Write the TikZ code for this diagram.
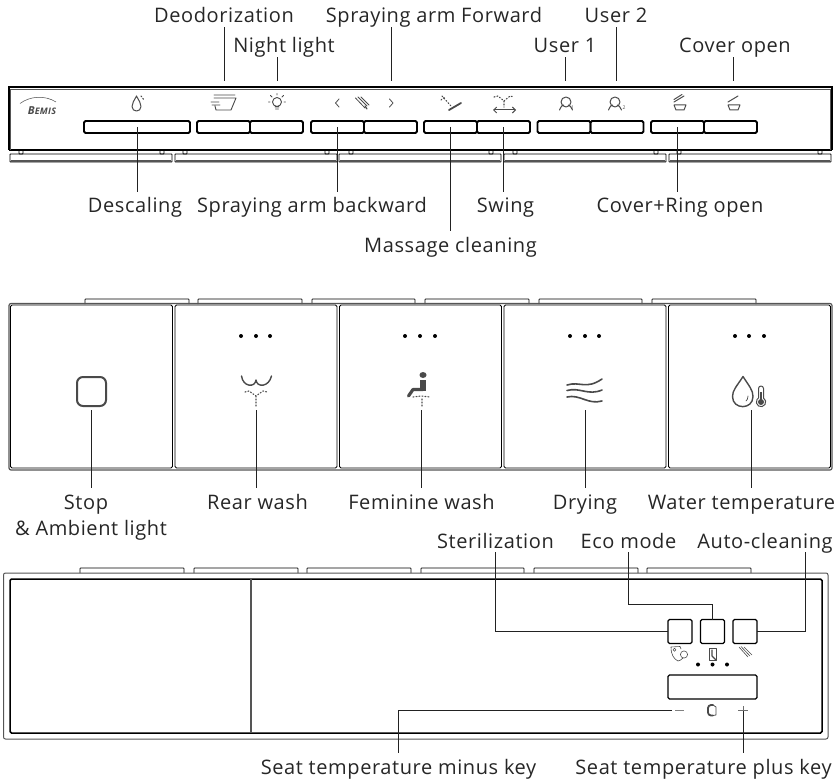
\documentclass[tikz,border=0pt]{standalone}
\usepackage{fontspec}
\setmainfont{Open Sans}[LetterSpace=3]
\usetikzlibrary{positioning, arrows.meta}
\definecolor{icongray}{HTML}{4A4A4A}
\definecolor{edgegray}{HTML}{555555}
\definecolor{leadgray}{HTML}{222222}

\begin{document}
\begin{tikzpicture}[
    x=1pt, y=-1pt,
    keybox/.style={rectangle, draw, rounded corners=1.5pt, inner sep=0pt, outer sep=0pt, minimum height=12pt, minimum width=53pt, line width=1.9pt},
    smallkey/.style={rectangle, draw, rounded corners=1.5pt, inner sep=0pt, outer sep=0pt, minimum height=24pt, minimum width=24pt, line width=1.1pt},
    padkey/.style={rectangle, draw, rounded corners=1.5pt, inner sep=0pt, outer sep=0pt, minimum height=163pt, minimum width=162pt, line width=0.9pt},
    lbl/.style={font=\fontsize{20}{22}\selectfont, anchor=base, inner sep=0pt, text height=21pt, text depth=4pt, text=black!85},
    lead/.style={draw=leadgray, line width=0.9pt},
    icon/.style={draw=icongray, line width=1pt, line cap=round, line join=round},
    thickicon/.style={draw=icongray, line width=1.8pt, line cap=round, line join=round},
    spray/.style={draw=icongray, line width=1.1pt, dash pattern=on 1pt off 2pt, line cap=round},
    tab/.style={draw, line width=0.8pt, rounded corners=0.6pt},
    ledot/.style={fill=black, draw=none},
  ]
    \useasboundingbox (0,0) rectangle (836,781);

    % top panel
    \draw[line width=1.3pt] (9,150) -- (9,87) -- (832,87) -- (832,150);
    \draw[line width=1.9pt] (9,150) -- (832,150);
    \draw[edgegray, line width=0.7pt] (10.5,150) -- (10.5,89) -- (830,89) -- (830,150);
    \draw[tab] (19,150) rectangle (23,154) (160,150) rectangle (164,154) (183,150) rectangle (187,154) (325,150) rectangle (329,154) (349,150) rectangle (353,154) (489,150) rectangle (493,154) (513,150) rectangle (517,154) (654,150) rectangle (658,154) (677,150) rectangle (681,154) (818,150) rectangle (822,154);
    \draw[tab, line width=0.9pt] (10,154) rectangle (172,162) (175,154) rectangle (337,162) (339,154) rectangle (501,162) (504,154) rectangle (666,162) (669,154) rectangle (831,162);
    \draw[edgegray, line width=1.2pt] (11,161) -- (171,161) (176,161) -- (336,161) (340,161) -- (500,161) (505,161) -- (665,161) (670,161) -- (830,161);

    \node[keybox, minimum width=106pt] (descaling) at (137,127) {};
    \node[keybox] (deo) at (223.5,127) {};
    \node[keybox, right=0pt of deo] (night) {};
    \node[keybox] (armback) at (337.5,127) {};
    \node[keybox, right=0pt of armback] (armfwd) {};
    \node[keybox] (massage) at (450.5,127) {};
    \node[keybox, right=0pt of massage] (swing) {};
    \node[keybox] (userone) at (564,127) {};
    \node[keybox, right=0pt of userone] (usertwo) {};
    \node[keybox] (coverring) at (677.5,127) {};
    \node[keybox, right=0pt of coverring] (cover) {};

    \coordinate (deoTop) at (224,81);
    \coordinate (nightTop) at (277,81);
    \coordinate (armTop) at (391,81);
    \coordinate (oneTop) at (565,81);
    \coordinate (twoTop) at (616,81);
    \coordinate (coverTop) at (733,81);

    \node[lbl] (deoLbl) at (224,22.5) {Deodorization};
    \node[lbl] (nightLbl) at (284,52.5) {Night light};
    \node[lbl] (armLbl) at (434,22.5) {Spraying arm Forward};
    \node[lbl] (oneLbl) at (565,52.5) {User 1};
    \node[lbl] (twoLbl) at (616,22.5) {User 2};
    \node[lbl] (coverLbl) at (735,52.5) {Cover open};
    \node[lbl] (descLbl) at (135,213) {Descaling};
    \node[lbl] (backLbl) at (312,213) {Spraying arm backward};
    \node[lbl] (massLbl) at (450.5,252) {Massage cleaning};
    \node[lbl] (swingLbl) at (505.5,213) {Swing};
    \node[lbl] (ringLbl) at (680,213) {Cover+Ring open};

    \draw[lead] (deoTop) -- (deoTop |- deoLbl.south);
    \draw[lead] (nightTop) -- (nightTop |- nightLbl.south);
    \draw[lead] (armTop) -- (armTop |- armLbl.south);
    \draw[lead] (oneTop) -- (oneTop |- oneLbl.south);
    \draw[lead] (twoTop) -- (twoTop |- twoLbl.south);
    \draw[lead] (coverTop) -- (coverTop |- coverLbl.south);
    \draw[lead] (descaling.center) -- (descaling.center |- descLbl.north);
    \draw[lead] (armback.center) -- (armback.center |- backLbl.north);
    \draw[lead] (massage.center) -- (massage.center |- massLbl.north);
    \draw[lead] (swing.center) -- (swing.center |- swingLbl.north);
    \draw[lead] (coverring.center) -- (coverring.center |- ringLbl.north);

    % top panel icons
    \draw[icongray, line width=0.5pt] (20,103.5) .. controls (30,96) and (45,95) .. (56,102);
    \node[inner sep=0pt, text=icongray] (bemis) at (42,111) {\itshape\bfseries{\fontsize{11}{11}\selectfont B}{\fontsize{9}{11}\selectfont EMIS}};
    \draw[icon] (136.5,96) .. controls (134,101) and (132,103) .. (132,106.5) .. controls (132,112.5) and (141,112.5) .. (141,106.5) .. controls (141,103) and (139,101) .. (136.5,96) -- cycle;
    \draw[spray] (141,96) -- (144,100);
    \draw[icon, line width=0.9pt] (214,95) -- (235,95) (214,98) -- (236,98) -- (231,110) -- (216,110) -- (215,106) (211,102) -- (219,102) (212,105) -- (220,105);
    \draw[icon, line width=0.9pt] (277,102) circle (4.5) (275,107) -- (279,107) (275.5,109) -- (278.5,109) (270,102) -- (268.5,102) (284,102) -- (285.5,102) (272,97) -- (270.5,95.5) (282,97) -- (283.5,95.5) (277,95) -- (277,93.5);
    \draw[icon, line width=0.8pt] (339,99) -- (335.5,103) -- (339,107) (389.5,99) -- (393,103) -- (389.5,107);
    \draw[icon, line width=0.8pt] (355.5,98) -- (365,108) (358,97) -- (367,106) (361,97) -- (369,105);
    \draw[icon, line width=1.2pt] (365,106) -- (367,109);
    \draw[spray] (442,96) -- (451,106) (441,100) -- (445,97);
    \draw[thickicon] (449,110) -- (461,103);
    \draw[spray] (494,97) -- (498,96) -- (504,101) -- (510,96) -- (514,97) (504,101) -- (504,107);
    \draw[icon, {Straight Barb[length=3pt]}-{Straight Barb[length=3pt]}] (493,110) -- (516,110);
    \draw[icon] (566,102) circle (5) (559.5,110) .. controls (561,106) and (563,105) .. (563.5,105) (568.5,105) .. controls (570,106) and (571.5,107) .. (572.5,110);
    \node[inner sep=0pt, text=icongray, font=\fontsize{5}{5}\selectfont] (subone) at (572.5,108) {1};
    \draw[icon] (615,102) circle (5) (608.5,110) .. controls (610,106) and (612,105) .. (612.5,105) (617.5,105) .. controls (619,106) and (620.5,107) .. (621.5,110);
    \node[inner sep=0pt, text=icongray, font=\fontsize{5}{5}\selectfont] (subtwo) at (624,108) {2};
    \draw[icon] (674,105) -- (686,105) -- (684,110) -- (676,110) -- cycle (674,102) -- (684,96) (674,99.5) -- (682,94.5);
    \draw[icon] (728,105) -- (740,105) -- (738,110) -- (730,110) -- cycle (728,102) -- (738,96);

    % middle panel
    \draw[tab, fill=white] (85,304) -- (85,299) -- (189,299) -- (189,304) (198,304) -- (198,299) -- (302,299) -- (302,304) (312,304) -- (312,299) -- (415,299) -- (415,304) (425,304) -- (425,299) -- (529,299) -- (529,304) (539,304) -- (539,299) -- (642,299) -- (642,304) (652,304) -- (652,299) -- (756,299) -- (756,304);
    \draw[edgegray, line width=1.2pt, rounded corners=2pt] (9,303.5) rectangle (832,470);
    \node[padkey] (stop) at (91.5,386.5) {};
    \node[padkey, right=2.5pt of stop] (rear) {};
    \node[padkey, right=2.5pt of rear] (feminine) {};
    \node[padkey, right=2.5pt of feminine] (drying) {};
    \node[padkey, right=2.5pt of drying] (water) {};

    \fill[ledot] (241,336) circle (2) (256,336) circle (2) (270,336) circle (2);
    \fill[ledot] (405,336) circle (2) (420,336) circle (2) (435,336) circle (2);
    \fill[ledot] (570,336) circle (2) (585,336) circle (2) (599,336) circle (2);
    \fill[ledot] (735,336) circle (2) (749,336) circle (2) (764,336) circle (2);

    \draw[thickicon, line width=2pt, rounded corners=6pt] (77,377) rectangle (106,406);
    \draw[thickicon, line width=1.4pt] (241.5,376) .. controls (243,387) and (255,388) .. (256,380) .. controls (257,388) and (269,387) .. (271.5,376);
    \draw[spray] (245,392) -- (249,391) -- (256,396) -- (263,391) -- (267,392) (256,396) -- (256,406);
    \fill[icongray] (423,375) ellipse (3.5 and 3);
    \draw[icongray, line width=5.5pt, line join=round] (423,380) -- (423,391);
    \draw[thickicon, line width=3.2pt] (423,389.5) -- (413,389.5) -- (408.5,396);
    \draw[spray] (413,397) -- (421,396) -- (430,397) (422,399) -- (422,408);
    \draw[thickicon, line width=1.6pt] (567,385) .. controls (580,381) and (586,390) .. (602,379) (567,390.5) .. controls (580,387) and (588,396) .. (602,390) (567,397) .. controls (580,394) and (588,405) .. (602,401);
    \draw[thickicon, line width=1.4pt] (743,376.5) .. controls (737,386) and (732.5,390) .. (732.5,396.5) .. controls (732.5,410) and (753,410) .. (753,396.5) .. controls (753,390) and (749,386) .. (743,376.5) -- cycle;
    \draw[icon, line width=0.7pt] (748,396) .. controls (748,399) and (747,400) .. (746,401);
    \draw[icon] (758.5,398) -- (758.5,388.5) arc (180:360:2.5) -- (763.5,398) arc (-58:238:4.7);
    \fill[icongray] (761,402) circle (3);
    \fill[icongray] (760.2,392) rectangle (761.8,401);

    \node[lbl] (stopLbl) at (86,509) {Stop};
    \node[lbl] (ambientLbl) at (91,535) {\& Ambient light};
    \node[lbl] (rearLbl) at (257.5,509) {Rear wash};
    \node[lbl] (femLbl) at (421.5,509) {Feminine wash};
    \node[lbl] (dryLbl) at (585,509) {Drying};
    \node[lbl] (waterLbl) at (741.5,509) {Water temperature};

    \coordinate (stopAnchor) at (91,410);
    \coordinate (rearAnchor) at (256,410);
    \coordinate (femAnchor) at (421,410);
    \coordinate (dryAnchor) at (585,410);
    \coordinate (waterAnchor) at (751,410);
    \draw[lead] (stopAnchor) -- (stopAnchor |- stopLbl.north);
    \draw[lead] (rearAnchor) -- (rearAnchor |- rearLbl.north);
    \draw[lead] (femAnchor) -- (femAnchor |- femLbl.north);
    \draw[lead] (dryAnchor) -- (dryAnchor |- dryLbl.north);
    \draw[lead] (waterAnchor) -- (waterAnchor |- waterLbl.north);

    % bottom panel
    \draw[tab] (80,573) -- (80,568) -- (184,568) -- (184,573) (194,573) -- (194,568) -- (298,568) -- (298,573) (307,573) -- (307,568) -- (411,568) -- (411,573) (421,573) -- (421,568) -- (524,568) -- (524,573) (534,573) -- (534,568) -- (638,568) -- (638,573) (647,573) -- (647,568) -- (751,568) -- (751,573);
    \draw[edgegray, line width=1pt, rounded corners=2pt] (3.5,573) rectangle (828,739);
    \draw[line width=1.5pt, rounded corners=1.5pt] (10,579) rectangle (822,733);
    \draw[edgegray, line width=1.2pt] (251,579) -- (251,733);

    \node[smallkey] (sterile) at (680,631.5) {};
    \node[smallkey] (eco) at (712.5,631.5) {};
    \node[smallkey] (autoclean) at (745,631.5) {};
    \node[smallkey, minimum width=89pt] (display) at (712.5,687) {};
    \fill[ledot] (698,664.5) circle (2) (712.5,664.5) circle (2) (727,664.5) circle (2);

    \draw[icon, line width=0.6pt] (671,647) -- (680,646.5) -- (681,649) (671,647) .. controls (671,655) and (674,659) .. (678,661) .. controls (680,660.5) and (681,660) .. (683,658);
    \draw[icon, line width=0.6pt] (684,654.5) circle (3.6) (674.5,649.8) circle (1.5);
    \draw[icon, line width=0.6pt] (709,648) rectangle (716,660);
    \draw[icon, line width=1.1pt] (712,650) -- (712,656) -- (716,660);
    \draw[icon, line width=0.6pt] (739,647) -- (748,657) (741,646.5) -- (750,656) (744,647) -- (752,655);
    \draw[icongray!70, line width=1pt] (675,710) -- (684,710);
    \draw[icongray!80, line width=0.8pt] (738,710) -- (748,710) (743,706) -- (743,714);
    \draw[thickicon, rounded corners=3pt] (713,705) -- (708,705) -- (708,715.5) -- (713,715.5);
    \draw[icon, line width=0.8pt] (713,705) -- (716,707) -- (716,715) -- (713,715.5);

    \coordinate (minusKey) at (672,710);
    \coordinate (plusKey) at (743,711);
    \coordinate (ecoBend) at (628.5,604);
    \coordinate (autoEnd) at (805,552);

    \node[lbl] (sterLbl) at (495.5,548) {Sterilization};
    \node[lbl] (ecoLbl) at (628.5,548) {Eco mode};
    \node[lbl] (autoLbl) at (765,548) {Auto-cleaning};
    \node[lbl] (minusLbl) at (398.5,774) {Seat temperature minus key};
    \node[lbl] (plusLbl) at (703.5,774) {Seat temperature plus key};

    \draw[lead] (sterile.west) -| (sterLbl.south);
    \draw[lead] (eco.north) |- (ecoBend) -- (ecoLbl.south);
    \draw[lead] (autoclean.east) -| (autoEnd);
    \draw[lead] (minusKey) -| (minusLbl.north);
    \draw[lead] (plusKey) -- (plusKey |- plusLbl.north);
  \end{tikzpicture}
\end{document}
